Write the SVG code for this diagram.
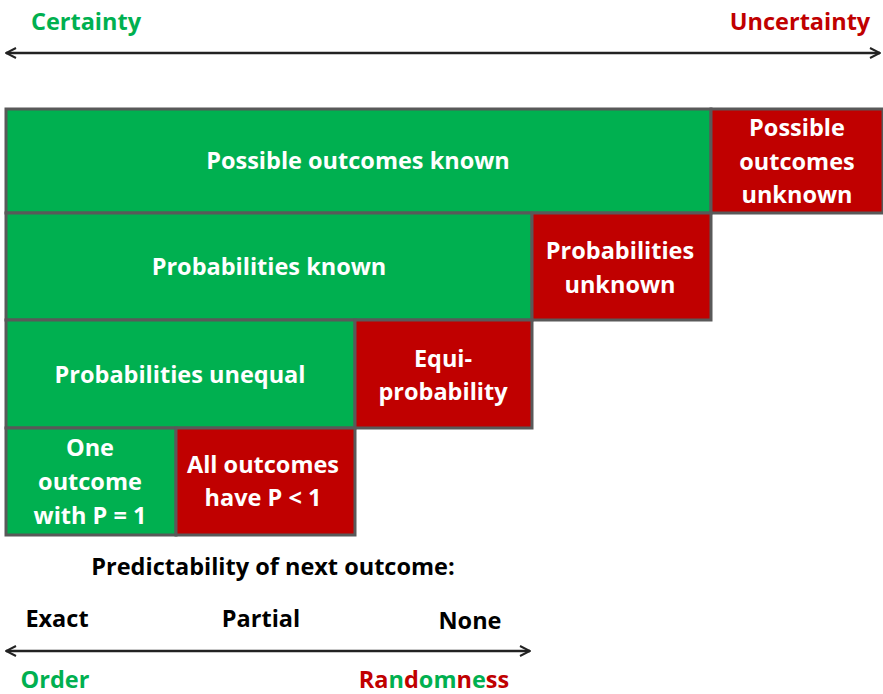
<svg xmlns="http://www.w3.org/2000/svg" width="883" height="694" viewBox="0 0 883 694">
<style>
.g{fill:#00B050;stroke:#595959;stroke-width:3}
.r{fill:#C00000;stroke:#595959;stroke-width:3}
text{font-family:"Open Sans",Lato,"Liberation Sans",sans-serif;font-weight:bold;font-size:23.5px;text-anchor:middle;dominant-baseline:central}
.w{fill:#fff}
.k{fill:#000}
.gt{fill:#00B050}
.rt{fill:#C00000}
.ax{stroke:#222;stroke-width:2.5;fill:none}
</style>
<defs>
<marker id="ah" viewBox="0 0 12 12" refX="11" refY="6" markerWidth="12" markerHeight="12" markerUnits="userSpaceOnUse" orient="auto-start-reverse">
<path d="M1,1 L11,6 L1,11" fill="none" stroke="#222" stroke-width="2"/>
</marker>
</defs>
<text class="gt" x="86" y="21">Certainty</text>
<text class="rt" x="800" y="21">Uncertainty</text>
<g id="connectors">
<line class="ax" x1="6" y1="53" x2="880" y2="53" marker-start="url(#ah)" marker-end="url(#ah)"/>
<line class="ax" x1="6" y1="651" x2="530" y2="651" marker-start="url(#ah)" marker-end="url(#ah)"/>
</g>
<g id="n1"><rect class="g" x="6" y="109" width="705" height="104"/><text class="w" x="358" y="160">Possible outcomes known</text></g>
<g id="n2"><rect class="r" x="711" y="109" width="172" height="104"/><text class="w" x="797" y="127">Possible</text><text class="w" x="797" y="161">outcomes</text><text class="w" x="797" y="194">unknown</text></g>
<g id="n3"><rect class="g" x="6" y="213" width="526" height="107"/><text class="w" x="269" y="266">Probabilities known</text></g>
<g id="n4"><rect class="r" x="532" y="213" width="179" height="107"/><text class="w" x="620" y="250">Probabilities</text><text class="w" x="620" y="284">unknown</text></g>
<g id="n5"><rect class="g" x="6" y="320" width="349" height="108"/><text class="w" x="180" y="374">Probabilities unequal</text></g>
<g id="n6"><rect class="r" x="355" y="320" width="177" height="108"/><text class="w" x="443" y="358">Equi-</text><text class="w" x="443" y="391">probability</text></g>
<g id="n7"><rect class="g" x="6" y="428" width="170" height="107"/><text class="w" x="90" y="447">One</text><text class="w" x="90" y="481">outcome</text><text class="w" x="90" y="515">with P = 1</text></g>
<g id="n8"><rect class="r" x="176" y="428" width="179" height="107"/><text class="w" x="263" y="464">All outcomes</text><text class="w" x="263" y="497">have P &lt; 1</text></g>
<text class="k" x="273" y="566">Predictability of next outcome:</text>
<text class="k" x="57" y="618">Exact</text>
<text class="k" x="261" y="618">Partial</text>
<text class="k" x="470" y="620">None</text>
<text class="gt" x="55" y="679">Order</text>
<text x="434" y="679"><tspan class="rt">Ra</tspan><tspan class="gt">n</tspan><tspan class="rt">d</tspan><tspan class="gt">om</tspan><tspan class="rt">n</tspan><tspan class="gt">e</tspan><tspan class="rt">ss</tspan></text>
</svg>
